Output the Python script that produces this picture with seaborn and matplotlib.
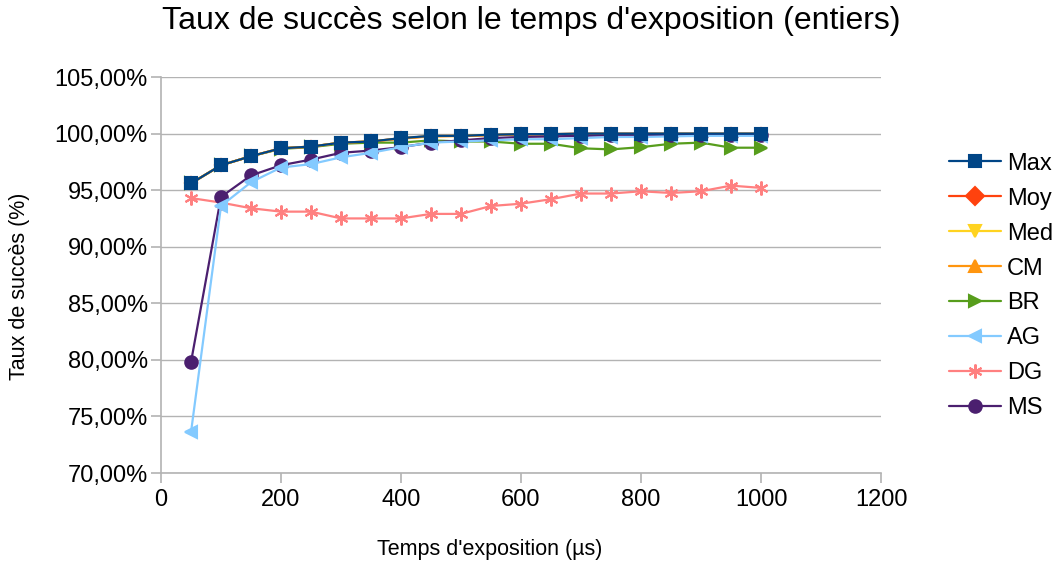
import numpy as np
import pandas as pd
import seaborn as sns
import matplotlib
matplotlib.use("Agg")
import matplotlib.pyplot as plt
from matplotlib.ticker import FuncFormatter

# temps d'exposition (µs)
temps = [50, 100, 150, 200, 250, 300, 350, 400, 450, 500,
         550, 600, 650, 700, 750, 800, 850, 900, 950, 1000]

max_ = [95.6, 97.2, 98.0, 98.7, 98.85, 99.2, 99.3, 99.6, 99.8, 99.8,
        99.9, 99.95, 99.95, 100.0, 100.0, 100.0, 100.0, 100.0, 100.0, 100.0]
moy = [95.6, 97.2, 98.0, 98.7, 98.85, 99.2, 99.3, 99.58, 99.78, 99.8,
       99.88, 99.93, 99.95, 99.98, 99.98, 99.98, 99.98, 99.98, 99.98, 99.98]
med = [95.6, 97.2, 98.0, 98.7, 98.85, 99.2, 99.3, 99.58, 99.78, 99.8,
       99.88, 99.93, 99.95, 99.98, 99.98, 99.98, 99.98, 99.98, 99.98, 99.98]
cm = [95.6, 97.2, 98.0, 98.7, 98.85, 99.2, 99.3, 99.55, 99.75, 99.78,
      99.86, 99.92, 99.94, 99.97, 99.97, 99.97, 99.97, 99.97, 99.97, 99.97]
br = [95.6, 97.2, 98.0, 98.65, 98.8, 99.1, 99.2, 99.2, 99.4, 99.3,
      99.3, 99.1, 99.1, 98.7, 98.6, 98.8, 99.1, 99.2, 98.75, 98.75]
ag = [73.6, 93.6, 95.7, 97.0, 97.3, 97.9, 98.3, 98.8, 99.2, 99.3,
      99.4, 99.5, 99.5, 99.6, 99.7, 99.7, 99.75, 99.8, 99.8, 99.8]
dg = [94.3, 93.9, 93.4, 93.1, 93.1, 92.5, 92.5, 92.5, 92.9, 92.9,
      93.6, 93.8, 94.2, 94.7, 94.7, 94.9, 94.75, 94.9, 95.4, 95.2]
ms = [79.8, 94.4, 96.3, 97.2, 97.7, 98.3, 98.5, 98.8, 99.2, 99.4,
      99.6, 99.7, 99.75, 99.8, 99.85, 99.85, 99.9, 99.9, 99.9, 99.9]

series = {"Max": max_, "Moy": moy, "Med": med, "CM": cm,
          "BR": br, "AG": ag, "DG": dg, "MS": ms}
couleurs = {"Max": "#004586", "Moy": "#ff420e", "Med": "#ffd320", "CM": "#ff950e",
            "BR": "#579d1c", "AG": "#83caff", "DG": "#ff8080", "MS": "#4b1f6f"}
marqueurs = {"Max": "s", "Moy": "D", "Med": "v", "CM": "^",
             "BR": ">", "AG": "<", "DG": (6, 2, 0), "MS": "o"}
# Moy/Med/CM plus petits : cachés sous les carrés de Max comme dans l'original
tailles = {"Max": 9, "Moy": 6.5, "Med": 7, "CM": 7, "BR": 9, "AG": 9, "DG": 10, "MS": 9}
ordre_z = {"Max": 10, "Moy": 4, "Med": 5, "CM": 6, "BR": 3, "AG": 8, "DG": 2, "MS": 7}

df = pd.DataFrame(series)
df["temps"] = temps

sns.set_style("white")
plt.rcParams["font.family"] = ["Liberation Sans", "DejaVu Sans"]
plt.rcParams["text.color"] = "black"
plt.rcParams["axes.labelcolor"] = "black"
plt.rcParams["xtick.color"] = "black"
plt.rcParams["ytick.color"] = "black"

fig = plt.figure(figsize=(10.62, 5.64), dpi=100)
ax = fig.add_axes([161 / 1062, 1 - 473 / 564, 720 / 1062, 396 / 564])

for nom in series:
    sns.lineplot(data=df, x="temps", y=nom, ax=ax, color=couleurs[nom],
                 marker=marqueurs[nom], markersize=tailles[nom],
                 markeredgecolor=couleurs[nom], markeredgewidth=1.5,
                 linewidth=1.6, label=nom, zorder=ordre_z[nom])

ax.set_xlim(0, 1200)
ax.set_ylim(70, 105)
ax.set_xticks(np.arange(0, 1201, 200))
ax.set_yticks(np.arange(70, 105.1, 5))
ax.yaxis.set_major_formatter(FuncFormatter(lambda v, p: f"{v:.2f}%".replace(".", ",")))
ax.grid(axis="y", color="#b3b3b3", linewidth=1)
ax.set_axisbelow(True)
for s in ["top", "right"]:
    ax.spines[s].set_visible(False)
for s in ["left", "bottom"]:
    ax.spines[s].set_color("#b3b3b3")
    ax.spines[s].set_linewidth(1.2)
ax.tick_params(axis="both", labelsize=17, length=7.5, width=1.2, color="#b3b3b3",
               labelcolor="black", direction="out", left=True, bottom=True)
ax.tick_params(axis="x", pad=4)
ax.tick_params(axis="y", pad=2)

ax.set_xlabel("Temps d'exposition (µs)", fontsize=15.5)
ax.set_ylabel("Taux de succès (%)", fontsize=15.5)
ax.xaxis.set_label_coords((490 - 161) / 720, (473 - 550) / 396)
ax.xaxis.label.set_va("center")
ax.yaxis.set_label_coords((20 - 161) / 720, (473 - 286) / 396)
ax.yaxis.label.set_va("center")
fig.suptitle("Taux de succès selon le temps d'exposition (entiers)",
             fontsize=23, x=0.5, y=0.99, color="black")

leg = ax.legend(loc="center left", bbox_to_anchor=(1.078, (473 - 286) / 396),
                frameon=False, fontsize=17, handlelength=2.2, labelspacing=0.55,
                handletextpad=0.25, borderpad=0)
for h in leg.legend_handles:
    h.set_markersize(9 if h.get_label() != "DG" else 10)

fig.savefig("out.png", dpi=100)
